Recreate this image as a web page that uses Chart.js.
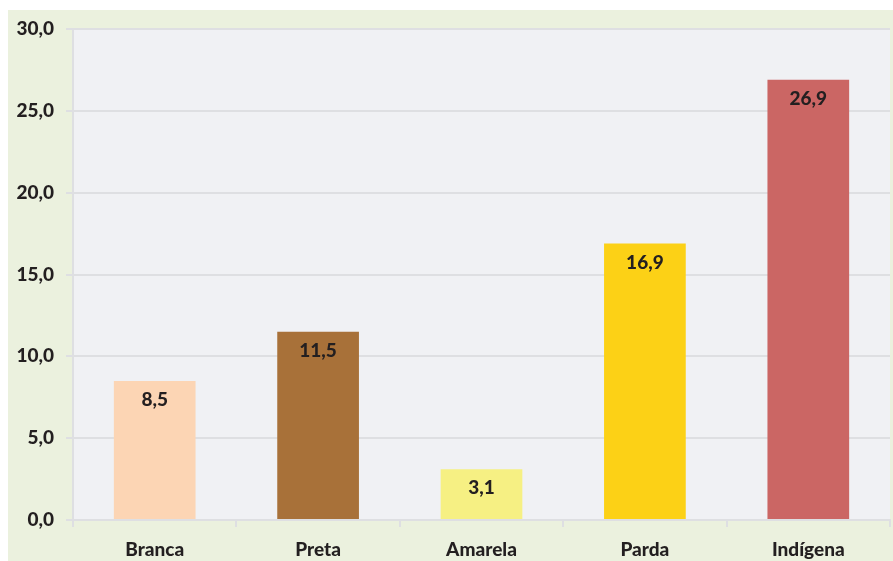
<!DOCTYPE html>
<html>
<head>
<meta charset="utf-8">
<script src="https://cdn.jsdelivr.net/npm/chart.js@4/dist/chart.umd.min.js"></script>
<style>
html,body{margin:0;padding:0;background:#fff;}
#wrap{width:893px;height:561px;position:relative;}
</style>
</head>
<body>
<div id="wrap"><canvas id="c" width="893" height="561"></canvas></div>
<script>
const categories = ["Branca", "Preta", "Amarela", "Parda", "Indígena"];
const values = [8.5, 11.5, 3.1, 16.9, 26.9];
const barColors = ["#FCD5B4", "#A87139", "#F6F083", "#FCD116", "#CB6664"];
const yTicks = [0, 5, 10, 15, 20, 25, 30];

const fmt = v => v.toFixed(1).replace('.', ',');
const FONT = "Lato, 'Open Sans', sans-serif";
const FSIZE = 19;

const bgPlugin = {
  id: 'bg',
  beforeDraw(chart) {
    const ctx = chart.ctx, a = chart.chartArea;
    ctx.save();
    ctx.fillStyle = '#ffffff';
    ctx.fillRect(0, 0, chart.width, chart.height);
    ctx.fillStyle = '#EBF1DE';
    ctx.fillRect(8, 10, chart.width - 8, chart.height - 10);
    ctx.fillStyle = '#F0F1F4';
    ctx.fillRect(a.left, a.top, a.right - a.left, a.bottom - a.top);
    ctx.restore();
  }
};

const labelPlugin = {
  id: 'vals',
  afterDatasetsDraw(chart) {
    const ctx = chart.ctx;
    const meta = chart.getDatasetMeta(0);
    ctx.save();
    ctx.font = "900 " + FSIZE + "px " + FONT;
    ctx.fillStyle = '#231F20';
    ctx.textAlign = 'center';
    ctx.textBaseline = 'middle';
    meta.data.forEach((bar, i) => {
      ctx.fillText(fmt(values[i]), bar.x, bar.y + 19);
    });
    ctx.restore();
  }
};

new Chart(document.getElementById('c'), {
  type: 'bar',
  data: {
    labels: categories,
    datasets: [{
      data: values,
      backgroundColor: barColors,
      borderWidth: 0,
      barPercentage: 1.0,
      categoryPercentage: 0.5
    }]
  },
  options: {
    responsive: false,
    animation: false,
    devicePixelRatio: 1,
    layout: { padding: { left: 8, top: 29, right: 3, bottom: 0 } },
    plugins: { legend: { display: false }, tooltip: { enabled: false } },
    scales: {
      y: {
        min: 0, max: 30,
        afterBuildTicks(scale) { scale.ticks = yTicks.map(v => ({ value: v })); },
        afterFit(scale) { scale.width = 65; },
        ticks: {
          callback: v => fmt(v),
          font: { family: FONT, size: FSIZE, weight: '900' },
          color: '#231F20',
          padding: 12
        },
        grid: { color: '#DEDFE2', lineWidth: 2, tickLength: 7 },
        border: { color: '#DEDFE2', width: 2 }
      },
      x: {
        afterFit(scale) { scale.height = 41; },
        ticks: {
          font: { family: FONT, size: FSIZE, weight: '900' },
          color: '#231F20',
          padding: 11
        },
        grid: { drawOnChartArea: false, offset: true, color: '#DEDFE2', lineWidth: 2, tickLength: 7 },
        border: { color: '#DEDFE2', width: 2 }
      }
    }
  },
  plugins: [bgPlugin, labelPlugin]
});
</script>
</body>
</html>
